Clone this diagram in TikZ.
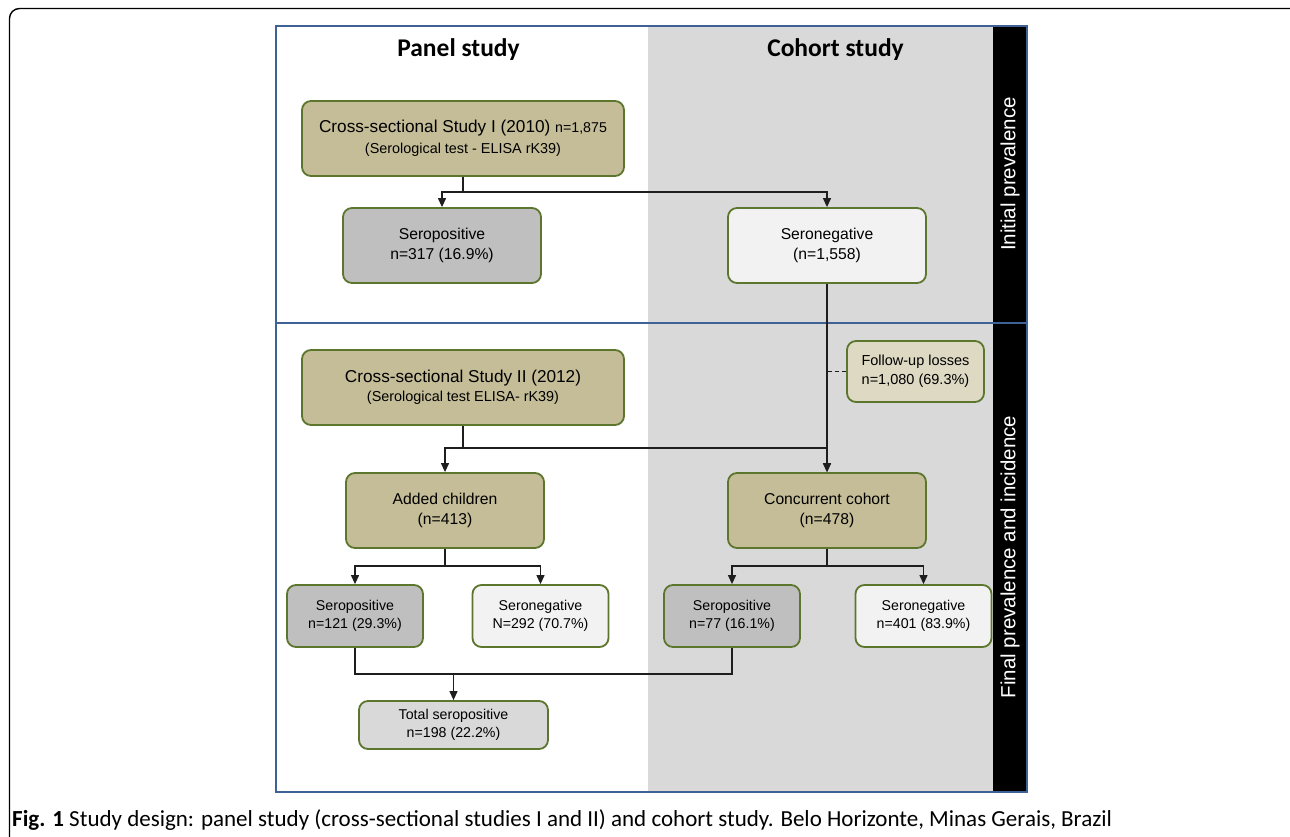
\documentclass[tikz,border=0pt]{standalone}
\usepackage{fontspec}
\setmainfont{Liberation Sans}
\newfontfamily\titlefont{Carlito}
\usetikzlibrary{arrows.meta}
\definecolor{frameblue}{RGB}{62,98,150}
\definecolor{boxborder}{RGB}{92,118,46}
\definecolor{khaki}{RGB}{196,189,151}
\definecolor{lightkhaki}{RGB}{221,217,195}
\definecolor{posgray}{RGB}{191,191,191}
\definecolor{neggray}{RGB}{242,242,242}
\definecolor{totgray}{RGB}{217,217,217}
\definecolor{bggray}{RGB}{217,217,217}
\definecolor{linecol}{RGB}{30,30,30}
\tikzset{
  box/.style={draw=boxborder, line width=1.8pt, rounded corners=9pt, align=center, inner sep=0pt},
  bigbox/.style={box, minimum width=198pt, minimum height=75pt, font=\fontsize{15.7}{20}\selectfont},
  smallbox/.style={box, minimum width=136pt, minimum height=62pt, font=\fontsize{14.2}{18}\selectfont},
  wire/.style={draw=linecol, line width=1.2pt},
  arr/.style={wire, -{Triangle[length=9pt,width=8pt]}},
}
\begin{document}
\begin{tikzpicture}[x=1pt,y=-1pt]
\useasboundingbox (0,0) rectangle (1290,837);
\fill[white] (0,0) rectangle (1290,837);
\begin{scope}
\clip (0,0) rectangle (1290,837);
\draw[line width=1.4pt, rounded corners=10pt] (9.5,8.5) rectangle (1320,870);
\end{scope}
% panels
\fill[bggray] (648,26) rectangle (993,792);
\fill[black] (993,26) rectangle (1027,792);
\draw[frameblue, line width=2.8pt] (276,26) rectangle (1027,792);
\draw[frameblue, line width=2.8pt] (276,323) -- (1027,323);
% titles
\node[font=\titlefont\bfseries\fontsize{25.5}{30}\selectfont] (t1) at (458.5,50) {Panel study};
\node[font=\titlefont\bfseries\fontsize{25.5}{30}\selectfont] (t2) at (835.5,50) {Cohort study};
% side labels
\node[rotate=90, white, font=\fontsize{20.5}{24}\selectfont] (s1) at (1010,174) {Initial prevalence};
\node[rotate=90, white, font=\fontsize{20.5}{24}\selectfont] (s2) at (1010,557) {Final prevalence and incidence};
% boxes
\node[box, fill=khaki, minimum width=322pt, minimum height=75pt] (cs1) at (463,138.5)
  {\fontsize{17.2}{19}\selectfont Cross-sectional Study I (2010) \fontsize{14.2}{19}\selectfont n=1,875\\[6pt]
   \fontsize{14.4}{19}\selectfont (Serological test - ELISA rK39)};
\node[bigbox, fill=posgray] (sp1) at (442,245.5) {Seropositive\\n=317 (16.9\%)};
\node[bigbox, fill=neggray] (sn1) at (827,245.5) {Seronegative\\(n=1,558)};
\node[box, fill=khaki, minimum width=322pt, minimum height=75pt] (cs2) at (463,387.5)
  {\fontsize{17.2}{19}\selectfont Cross-sectional Study II (2012)\\[4pt]
   \fontsize{14.4}{19}\selectfont (Serological test ELISA- rK39)};
\node[box, fill=lightkhaki, minimum width=137pt, minimum height=61pt, font=\fontsize{14.5}{19}\selectfont] (fu) at (915.5,371.5)
  {Follow-up losses\\n=1,080 (69.3\%)};
\node[bigbox, fill=khaki] (ac) at (445,510.5) {Added children\\(n=413)};
\node[bigbox, fill=khaki] (cc) at (827,510.5) {Concurrent cohort\\(n=478)};
\node[smallbox, fill=posgray] (sp2) at (355,616) {Seropositive\\n=121 (29.3\%)};
\node[smallbox, fill=neggray] (sn2) at (540.5,616) {Seronegative\\N=292 (70.7\%)};
\node[smallbox, fill=posgray] (sp3) at (732,616) {Seropositive\\n=77 (16.1\%)};
\node[smallbox, fill=neggray] (sn3) at (923.5,616) {Seronegative\\n=401 (83.9\%)};
\node[box, fill=totgray, minimum width=189pt, minimum height=48pt, font=\fontsize{14.2}{18}\selectfont] (tot) at (453.5,725)
  {Total seropositive\\n=198 (22.2\%)};
% connectors
\coordinate (j1) at (463,192);
\draw[wire] (cs1.south) -- (j1);
\draw[arr] (j1) -| (sp1.north);
\draw[arr] (j1) -| (sn1.north);
\draw[arr] (sn1.south) -- (cc.north);
\coordinate (jf) at (827,371.5);
\draw[wire, dashed, dash pattern=on 4pt off 3pt, line width=1pt] (fu.west) -- (jf);
\coordinate (j2) at (463,448);
\draw[wire] (cs2.south) -- (j2);
\draw[arr] (j2) -| (ac.north);
\draw[arr] (j2) -| (cc.north);
\coordinate (j3) at (445,566);
\draw[wire] (ac.south) -- (j3);
\draw[arr] (j3) -| (sp2.north);
\draw[arr] (j3) -| (sn2.north);
\coordinate (j4) at (827,566);
\draw[wire] (cc.south) -- (j4);
\draw[arr] (j4) -| (sp3.north);
\draw[arr] (j4) -| (sn3.north);
\coordinate (j5) at (453.5,674);
\draw[wire] (sp2.south) |- (j5) -| (sp3.south);
\draw[arr] (j5) -- (tot.north);
% caption
\node[anchor=base west, inner sep=0pt, font=\titlefont\fontsize{23}{26}\selectfont] (cap) at (12,826)
  {\textbf{Fig. 1} Study design: panel study (cross-sectional studies I and II) and cohort study. Belo Horizonte, Minas Gerais, Brazil};
\end{tikzpicture}
\end{document}
